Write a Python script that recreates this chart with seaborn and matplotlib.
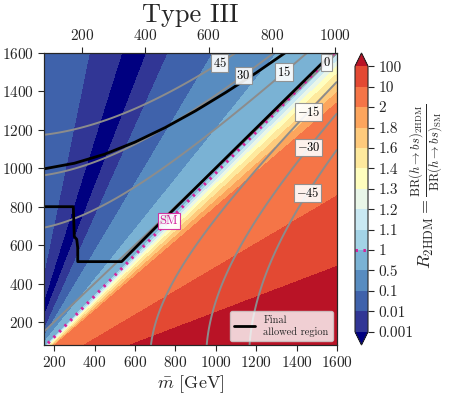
import numpy as np
import matplotlib
matplotlib.use("Agg")
import matplotlib.pyplot as plt
import seaborn as sns
from matplotlib.colors import ListedColormap, BoundaryNorm
from matplotlib.lines import Line2D

sns.set_style("ticks")
plt.rcParams["font.family"] = "serif"
plt.rcParams["font.serif"] = ["cmr10", "DejaVu Serif"]
plt.rcParams["mathtext.fontset"] = "cm"
plt.rcParams["axes.formatter.use_mathtext"] = True
plt.rcParams["axes.unicode_minus"] = False

# colorbar levels of R_2HDM
r_levels = [0.001, 0.01, 0.1, 0.5, 1, 1.1, 1.2, 1.3, 1.4, 1.6, 1.8, 2, 10, 100]
r_ticklabels = ["0.001", "0.01", "0.1", "0.5", "1", "1.1", "1.2", "1.3", "1.4",
                "1.6", "1.8", "2", "10", "100"]

# colour boundaries (upper-left -> lower-right)
bnd_value = [0.01, 0.001, 0.001, 0.01, 0.1, 0.5, 1.0, 1.1, 1.2, 1.3, 1.4, 1.6, 1.8, 2.0, 10, 100]
bnd_mbar_bottom = [76, 80, 96, 117, 125, 140, 161, 166, 172, 178, 184, 191, 198, 205, 350, 578]   # at y = 80
bnd_mbar_top = [374, 534, 658, 765, 986, 1303, 1585, 1610, 1640, 1670, 1710, 1760, 1820, 1888, 2800, 4378]  # at y = 1600
region_value = [0.03, 0.003, 1e-4, 0.003, 0.03, 0.25, 0.7, 1.05, 1.15, 1.25, 1.35,
                1.5, 1.7, 1.9, 4, 30, 300]

# grey iso-lines: y^2 - mbar^2 at their edge crossings
gray_c = [-1.356e6, -0.906e6, -0.455e6, 0.0, 0.455e6, 0.906e6, 1.356e6]
gray_text = [r"$-45$", r"$-30$", r"$-15$", r"$0$", r"$15$", r"$30$", r"$45$"]
gray_label_pos = [(1451, 871), (1456, 1111), (1456, 1298), (1545, 1553),
                  (1338, 1501), (1135, 1485), (1016, 1553)]
sm_label_pos = [(764, 731)]

# final allowed region boundary
allowed_upper_m = [150, 300, 450, 600, 750, 900, 1050, 1200, 1342]
allowed_upper_y = [997, 1026, 1073, 1136, 1212, 1299, 1395, 1497, 1600]
allowed_lower_m = [150, 295, 300, 312, 317, 317, 534, 724, 1577]
allowed_lower_y = [800, 800, 644, 630, 585, 514, 514, 715, 1600]

top_axis_range = (80, 1006)

# ---- build the colour field from the boundaries ----
m_grid = np.linspace(150, 1600, 901)
y_grid = np.linspace(80, 1600, 901)
M, Y = np.meshgrid(m_grid, y_grid)

b_bot = np.array(bnd_mbar_bottom, float)[:, None, None]
b_top = np.array(bnd_mbar_top, float)[:, None, None]
frac = (Y - 80) / (1600 - 80)
bpos = b_bot + (b_top - b_bot) * frac
idx = np.clip((M - bpos) / 2.0 + 0.5, 0, 1).sum(axis=0)

node_logr = []
for j, rv in enumerate(region_value):
    node_logr.append(np.log10(rv))
    if j < len(bnd_value):
        node_logr.append(np.log10(bnd_value[j]))
node_x = np.arange(len(node_logr)) / 2.0
R = 10 ** np.interp(idx, node_x, node_logr)

G = Y ** 2 - M ** 2

# ---- colours ----
base = plt.get_cmap("RdYlBu_r")
cmap = ListedColormap([base(k / 14) for k in range(13)]).with_extremes(
    under="#000080", over=base(0.96))
norm = BoundaryNorm(r_levels, 13)
sm_color = "#d3249c"

fig = plt.figure(figsize=(4.49, 3.96), dpi=100)
ax = fig.add_axes([44 / 449, 1 - 345 / 396, 293 / 449, 292 / 396])
cax = fig.add_axes([355 / 449, 1 - 345 / 396, 13 / 449, 292 / 396])

cf = ax.contourf(M, Y, R, levels=r_levels, cmap=cmap, norm=norm, extend="both")

cs_g = ax.contour(M, Y, G, levels=gray_c, colors="#8c8c8c", linewidths=1.4,
                  negative_linestyles="solid")
glabels = ax.clabel(cs_g, manual=gray_label_pos, inline=False, fontsize=9,
                    fmt=dict(zip(cs_g.levels, gray_text)))
for t in glabels:
    t.set_rotation(0)
    t.set_color("black")
    t.set_bbox(dict(facecolor="white", edgecolor="#8c8c8c", alpha=0.9,
                    boxstyle="square,pad=0.15", linewidth=0.8))

cs_sm = ax.contour(M, Y, R, levels=[1.0], colors=sm_color, linewidths=2.2)
cs_sm.set_linestyle((0, (0.8, 1.8)))
smlab = ax.clabel(cs_sm, manual=sm_label_pos, inline=False, fontsize=9,
                  fmt={cs_sm.levels[0]: "SM"})
for t in smlab:
    t.set_rotation(0)
    t.set_color(sm_color)
    t.set_bbox(dict(facecolor="white", edgecolor=sm_color, alpha=0.9,
                    boxstyle="square,pad=0.15", linewidth=0.8))

sns.lineplot(x=allowed_upper_m, y=allowed_upper_y, sort=False, estimator=None,
             color="black", linewidth=2, ax=ax)
sns.lineplot(x=allowed_lower_m, y=allowed_lower_y, sort=False, estimator=None,
             color="black", linewidth=2, ax=ax)

ax.legend([Line2D([0], [0], color="black", lw=2)], ["Final\nallowed region"],
          loc="lower right", fontsize=7.5, framealpha=0.8, borderaxespad=0.4)

ax.set_xlim(150, 1600)
ax.set_ylim(80, 1600)
ax.set_xticks(range(200, 1601, 200))
ax.set_yticks(range(200, 1601, 200))
ax.tick_params(labelsize=11, length=4)
ax.set_xlabel(r"$\bar{m}$ [GeV]", fontsize=13, labelpad=2)

ax2 = ax.twiny()
ax2.set_xlim(*top_axis_range)
ax2.set_xticks([200, 400, 600, 800, 1000])
ax2.tick_params(labelsize=11, length=4)
ax.set_title("Type III", fontsize=19, pad=4)

cbar = fig.colorbar(cf, cax=cax)
cbar.set_ticks(r_levels)
cbar.set_ticklabels(r_ticklabels)
cbar.ax.tick_params(labelsize=11, length=4)
cbar.add_lines(cs_sm)
cbar.lines[-1].set_linestyle((0, (0.8, 1.8)))
cbar.lines[-1].set_linewidth(2.2)

fig.text(427 / 449, 0.5 + 0.03,
         r"$R_{\rm 2HDM} = \frac{{\rm BR}(h\to bs)_{\rm 2HDM}}{{\rm BR}(h\to bs)_{\rm SM}}$",
         rotation=90, ha="center", va="center", fontsize=13)

fig.savefig("out.png", dpi=100)
